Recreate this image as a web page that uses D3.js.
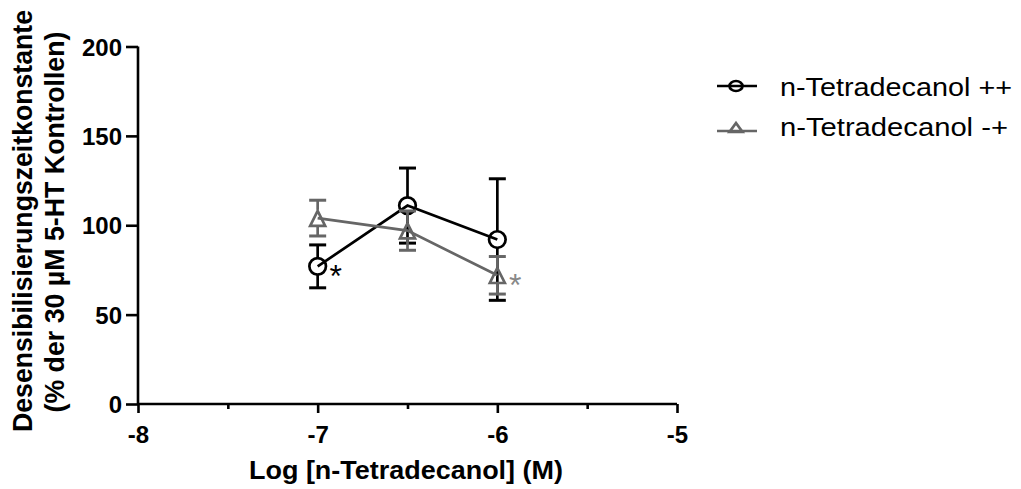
<!DOCTYPE html>
<html><head><meta charset="utf-8">
<script src="https://cdn.jsdelivr.net/npm/d3@7"></script>
<style>body{margin:0;background:#fff} svg{display:block}</style>
</head><body><svg id="c" width="1021" height="489"></svg>
<script>
// ---- data ----
const logConc = [-7, -6.5, -6];
const meanPP = [77, 111, 92];
const semPP = [12, 21, 34];
const meanMP = [104, 97, 72];
const semMP = [10, 11, 10.5];
const seriesNames = ["n-Tetradecanol ++", "n-Tetradecanol -+"];
const sigPP = [-7];   // asterisk after these x (series ++)
const sigMP = [-6];   // asterisk after these x (series -+)
const xTicks = [-8, -7, -6, -5];
const xMinorTicks = [-7.5, -6.5, -5.5];
const yTicks = [0, 50, 100, 150, 200];
const xTitle = "Log [n-Tetradecanol] (M)";
const yTitle1 = "Desensibilisierungszeitkonstante";
const yTitle2 = "(% der 30 µM 5-HT Kontrollen)";

const FONT = "'Liberation Sans', Arial, Helvetica, sans-serif";
const svg = d3.select("#c");
const x = d3.scaleLinear().domain([-8, -5]).range([138, 677]);
const y = d3.scaleLinear().domain([0, 200]).range([404, 46.5]);

// axes
const gx = svg.append("g").attr("transform", `translate(0,${y(0)})`)
  .call(d3.axisBottom(x).tickValues(xTicks).tickSize(9).tickPadding(7).tickFormat(d => String(d)));
const gxm = svg.append("g").attr("transform", `translate(0,${y(0)})`)
  .call(d3.axisBottom(x).tickValues(xMinorTicks).tickSize(5).tickFormat(""));
gxm.select(".domain").remove();
const gy = svg.append("g").attr("transform", `translate(${x(-8)},0)`)
  .call(d3.axisLeft(y).tickValues(yTicks).tickSize(12).tickPadding(4).tickFormat(d => String(d)));
[gx, gxm, gy].forEach(g => {
  g.selectAll("path.domain").attr("stroke", "#000").attr("stroke-width", 2.6);
  g.selectAll(".tick line").attr("stroke", "#000").attr("stroke-width", 2.6);
  g.selectAll(".tick text").attr("font-family", FONT).attr("font-weight", "bold")
    .attr("font-size", 24).attr("fill", "#000");
});
gx.select(".domain").attr("d", `M${x(-8)},0H${x(-5)}`);
gy.select(".domain").attr("d", `M0,${y(200)}V${y(0)}`);
gx.selectAll(".tick text").attr("dy", "0.95em");
gy.selectAll(".tick text").attr("dy", "0.36em");

// titles
svg.append("text").attr("x", 406).attr("y", 479).attr("text-anchor", "middle")
  .attr("font-family", FONT).attr("font-weight", "bold").attr("font-size", 25)
  .attr("textLength", 314).attr("lengthAdjust", "spacingAndGlyphs").text(xTitle);
svg.append("text").attr("transform", "translate(32,221) rotate(-90)").attr("text-anchor", "middle")
  .attr("font-family", FONT).attr("font-weight", "bold").attr("font-size", 27)
  .attr("textLength", 422).attr("lengthAdjust", "spacingAndGlyphs").text(yTitle1);
svg.append("text").attr("transform", "translate(64,222) rotate(-90)").attr("text-anchor", "middle")
  .attr("font-family", FONT).attr("font-weight", "bold").attr("font-size", 27)
  .attr("textLength", 381).attr("lengthAdjust", "spacingAndGlyphs").text(yTitle2);

// series
const series = [
  {name: seriesNames[0], mean: meanPP, sem: semPP, color: "#000", sym: "circle", sig: sigPP, starColor: "#000"},
  {name: seriesNames[1], mean: meanMP, sem: semMP, color: "#666", sym: "triangle", sig: sigMP, starColor: "#888"}
];
const SW = 2.7, CAP = 8.5, R = 8.3;
const triPath = (cx, cy, s) => `M${cx},${cy - s*0.62}L${cx + s*0.5},${cy + s*0.38}L${cx - s*0.5},${cy + s*0.38}Z`;

series.forEach(s => {
  const g = svg.append("g");
  const pts = logConc.map((c, i) => [x(c), y(s.mean[i])]);
  g.append("path").attr("d", d3.line()(pts)).attr("fill", "none")
    .attr("stroke", s.color).attr("stroke-width", SW);
  logConc.forEach((c, i) => {
    const cx = x(c), cy = y(s.mean[i]);
    const top = y(s.mean[i] + s.sem[i]), bot = y(s.mean[i] - s.sem[i]);
    g.append("line").attr("x1", cx).attr("x2", cx).attr("y1", top).attr("y2", cy - R)
      .attr("stroke", s.color).attr("stroke-width", SW);
    g.append("line").attr("x1", cx).attr("x2", cx).attr("y1", cy + R).attr("y2", bot)
      .attr("stroke", s.color).attr("stroke-width", SW);
    [top, bot].forEach(yy => g.append("line").attr("x1", cx - CAP).attr("x2", cx + CAP)
      .attr("y1", yy).attr("y2", yy).attr("stroke", s.color).attr("stroke-width", SW + 0.3));
    if (s.sym === "circle") {
      g.append("circle").attr("cx", cx).attr("cy", cy).attr("r", R)
        .attr("fill", "none").attr("stroke", s.color).attr("stroke-width", SW);
    } else {
      g.append("path").attr("d", triPath(cx, cy + 2, 15)).attr("fill", "none")
        .attr("stroke", s.color).attr("stroke-width", SW).attr("stroke-linejoin", "miter");
    }
  });
  s.sig.forEach(c => {
    const i = logConc.indexOf(c);
    svg.append("text").attr("x", x(c) + 18).attr("y", y(s.mean[i]) + 21)
      .attr("text-anchor", "middle").attr("font-family", FONT).attr("font-size", 32)
      .attr("fill", s.starColor).text("*");
  });
});

// legend
const lg = svg.append("g");
series.forEach((s, k) => {
  const ly = k === 0 ? 86 : 131;
  const ty = k === 0 ? 96 : 136;
  lg.append("line").attr("x1", 717).attr("x2", 757).attr("y1", ly).attr("y2", ly)
    .attr("stroke", s.color).attr("stroke-width", SW);
  if (s.sym === "circle") {
    lg.append("ellipse").attr("cx", 736).attr("cy", ly).attr("rx", 6.5).attr("ry", 5)
      .attr("fill", "none").attr("stroke", s.color).attr("stroke-width", SW);
  } else {
    lg.append("path").attr("d", `M736,${ly - 8}L742.5,${ly + 1}L729.5,${ly + 1}Z`)
      .attr("fill", "none").attr("stroke", s.color).attr("stroke-width", SW);
  }
  lg.append("text").attr("x", 780).attr("y", ty).attr("font-family", FONT)
    .attr("font-size", 25).attr("fill", "#000")
    .attr("textLength", k === 0 ? 232 : 228).attr("lengthAdjust", "spacingAndGlyphs").text(s.name);
});
</script></body></html>
